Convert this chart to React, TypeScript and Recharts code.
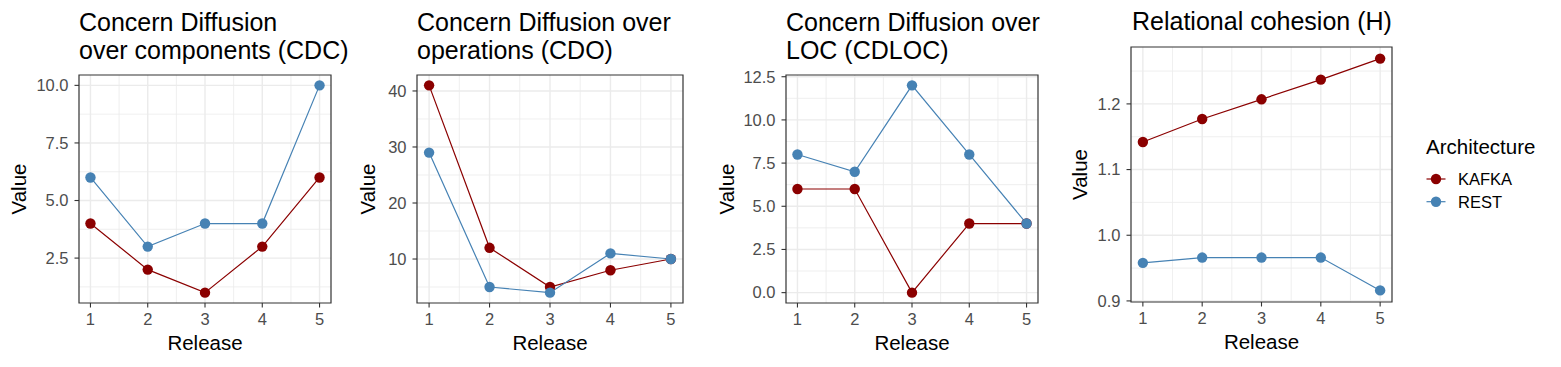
import { LineChart, Line, XAxis, YAxis, CartesianGrid, ReferenceArea, Label } from "recharts";

// releases on the x axis
const releases = [1, 2, 3, 4, 5];
const xMinor = [1.5, 2.5, 3.5, 4.5];

// Concern Diffusion over components
const cdcKafka = [4, 2, 1, 3, 6];
const cdcRest = [6, 3, 4, 4, 10];
const cdcTicks = [2.5, 5, 7.5, 10];
const cdcMinor = [1.25, 3.75, 6.25, 8.75];

// Concern Diffusion over operations
const cdoKafka = [41, 12, 5, 8, 10];
const cdoRest = [29, 5, 4, 11, 10];
const cdoTicks = [10, 20, 30, 40];
const cdoMinor = [5, 15, 25, 35];

// Concern Diffusion over LOC
const cdlocKafka = [6, 6, 0, 4, 4];
const cdlocRest = [8, 7, 12, 8, 4];
const cdlocTicks = [0, 2.5, 5, 7.5, 10, 12.5];
const cdlocMinor = [1.25, 3.75, 6.25, 8.75, 11.25];

// Relational cohesion
const hKafka = [1.142, 1.177, 1.207, 1.237, 1.269];
const hRest = [0.958, 0.966, 0.966, 0.966, 0.916];
const hTicks = [0.9, 1.0, 1.1, 1.2];
const hMinor = [0.95, 1.05, 1.15, 1.25];

const seriesNames = ["KAFKA", "REST"];
const KAFKA_COLOR = "#8B0000";
const REST_COLOR = "#4682B4";

const W = 1561;
const H = 367;
const FONT = "'Liberation Sans', Arial, Helvetica, sans-serif";
const GRID = "#EBEBEB";
const DARK = "#333333";

type Box = { l: number; t: number; r: number; b: number };

interface PanelProps {
  box: Box;
  kafka: number[];
  rest: number[];
  ticks: number[];
  minor: number[];
  fmt: (v: number) => string;
  yTitleX: number;
}

function Panel({ box, kafka, rest, ticks, minor, fmt, yTitleX }: PanelProps) {
  const data = releases.map((r, i) => ({ release: r, kafka: kafka[i], rest: rest[i] }));
  const all = [...kafka, ...rest];
  const lo = Math.min(...all);
  const hi = Math.max(...all);
  const pad = (hi - lo) * 0.05;
  const domain: [number, number] = [lo - pad, hi + pad];
  const YW = 60;
  const XH = 50;
  const cy = (box.t + box.b) / 2;
  const cx = (box.l + box.r) / 2;

  return (
    <div style={{ position: "absolute", left: 0, top: 0 }}>
      <LineChart
        width={W}
        height={H}
        data={data}
        margin={{ left: box.l - YW, top: box.t, right: W - box.r, bottom: H - box.b - XH }}
        style={{ fontFamily: FONT }}
      >
        <CartesianGrid
          horizontalValues={minor}
          verticalValues={xMinor}
          stroke={GRID}
          strokeWidth={0.8}
        />
        <CartesianGrid
          horizontalValues={ticks}
          verticalValues={releases}
          stroke={GRID}
          strokeWidth={1.4}
        />
        <XAxis
          dataKey="release"
          type="number"
          domain={[0.8, 5.2]}
          ticks={releases}
          interval={0}
          allowDataOverflow
          height={XH}
          axisLine={false}
          tickSize={4.5}
          tickMargin={6}
          tickLine={{ stroke: DARK, strokeWidth: 1.1 }}
          tick={{ fill: "#4D4D4D", fontSize: 16.5 }}
        >
          <Label
            content={() => (
              <text x={cx} y={box.b + 47} textAnchor="middle" fontSize={20.5} fill="#000" fontFamily={FONT}>
                Release
              </text>
            )}
          />
        </XAxis>
        <YAxis
          type="number"
          domain={domain}
          ticks={ticks}
          interval={0}
          allowDataOverflow
          width={YW}
          axisLine={false}
          tickSize={4.5}
          tickMargin={6}
          tickFormatter={fmt}
          tickLine={{ stroke: DARK, strokeWidth: 1.1 }}
          tick={{ fill: "#4D4D4D", fontSize: 16.5 }}
        >
          <Label
            content={() => (
              <text
                x={yTitleX}
                y={cy}
                dy="0.35em"
                transform={`rotate(-90 ${yTitleX} ${cy})`}
                textAnchor="middle"
                fontSize={20.5}
                fill="#000"
                fontFamily={FONT}
              >
                Value
              </text>
            )}
          />
        </YAxis>
        <Line dataKey="kafka" name="KAFKA" stroke={KAFKA_COLOR} strokeWidth={1.2} dot={false} isAnimationActive={false} />
        <Line dataKey="rest" name="REST" stroke={REST_COLOR} strokeWidth={1.2} dot={false} isAnimationActive={false} />
        <Line
          dataKey="kafka"
          stroke="none"
          legendType="none"
          dot={{ r: 5.2, fill: KAFKA_COLOR, stroke: KAFKA_COLOR, strokeWidth: 0 }}
          activeDot={false}
          isAnimationActive={false}
        />
        <Line
          dataKey="rest"
          stroke="none"
          legendType="none"
          dot={{ r: 5.2, fill: REST_COLOR, stroke: REST_COLOR, strokeWidth: 0 }}
          activeDot={false}
          isAnimationActive={false}
        />
        <ReferenceArea
          x1={0.8}
          x2={5.2}
          y1={domain[0]}
          y2={domain[1]}
          fill="none"
          stroke={DARK}
          strokeWidth={1.2}
          ifOverflow="visible"
        />
      </LineChart>
    </div>
  );
}

const one = (v: number) => v.toFixed(1);
const int = (v: number) => String(v);

export default function App() {
  return (
    <div style={{ position: "absolute", left: 0, top: 0, width: W, height: H, background: "#fff", fontFamily: FONT }}>
      <Panel box={{ l: 79, t: 75, r: 331, b: 303 }} kafka={cdcKafka} rest={cdcRest} ticks={cdcTicks} minor={cdcMinor} fmt={one} yTitleX={19} />
      <Panel box={{ l: 417, t: 75, r: 683, b: 303 }} kafka={cdoKafka} rest={cdoRest} ticks={cdoTicks} minor={cdoMinor} fmt={int} yTitleX={368} />
      <Panel box={{ l: 786, t: 75, r: 1038, b: 303 }} kafka={cdlocKafka} rest={cdlocRest} ticks={cdlocTicks} minor={cdlocMinor} fmt={one} yTitleX={727} />
      <Panel box={{ l: 1131, t: 47, r: 1392, b: 302 }} kafka={hKafka} rest={hRest} ticks={hTicks} minor={hMinor} fmt={one} yTitleX={1080} />
      <svg width={W} height={H} style={{ position: "absolute", left: 0, top: 0, pointerEvents: "none" }} fontFamily={FONT}>
        <g fontSize={25} fill="#000">
          <text x={79} y={31}>Concern Diffusion</text>
          <text x={79} y={58.5}>over components (CDC)</text>
          <text x={417} y={31}>Concern Diffusion over</text>
          <text x={417} y={58.5}>operations (CDO)</text>
          <text x={786} y={31}>Concern Diffusion over</text>
          <text x={786} y={58.5}>LOC (CDLOC)</text>
          <text x={1132} y={30}>Relational cohesion (H)</text>
        </g>
        <text x={1426} y={153.5} fontSize={20.5} fill="#000">Architecture</text>
        {seriesNames.map((name, i) => {
          const y = 179 + i * 22.7;
          const c = i === 0 ? KAFKA_COLOR : REST_COLOR;
          return (
            <g key={name}>
              <line x1={1426.5} x2={1445.5} y1={y} y2={y} stroke={c} strokeWidth={1.2} />
              <circle cx={1436} cy={y} r={5.2} fill={c} />
              <text x={1458} y={y} dy="0.36em" fontSize={16.5} fill="#000">{name}</text>
            </g>
          );
        })}
      </svg>
    </div>
  );
}
